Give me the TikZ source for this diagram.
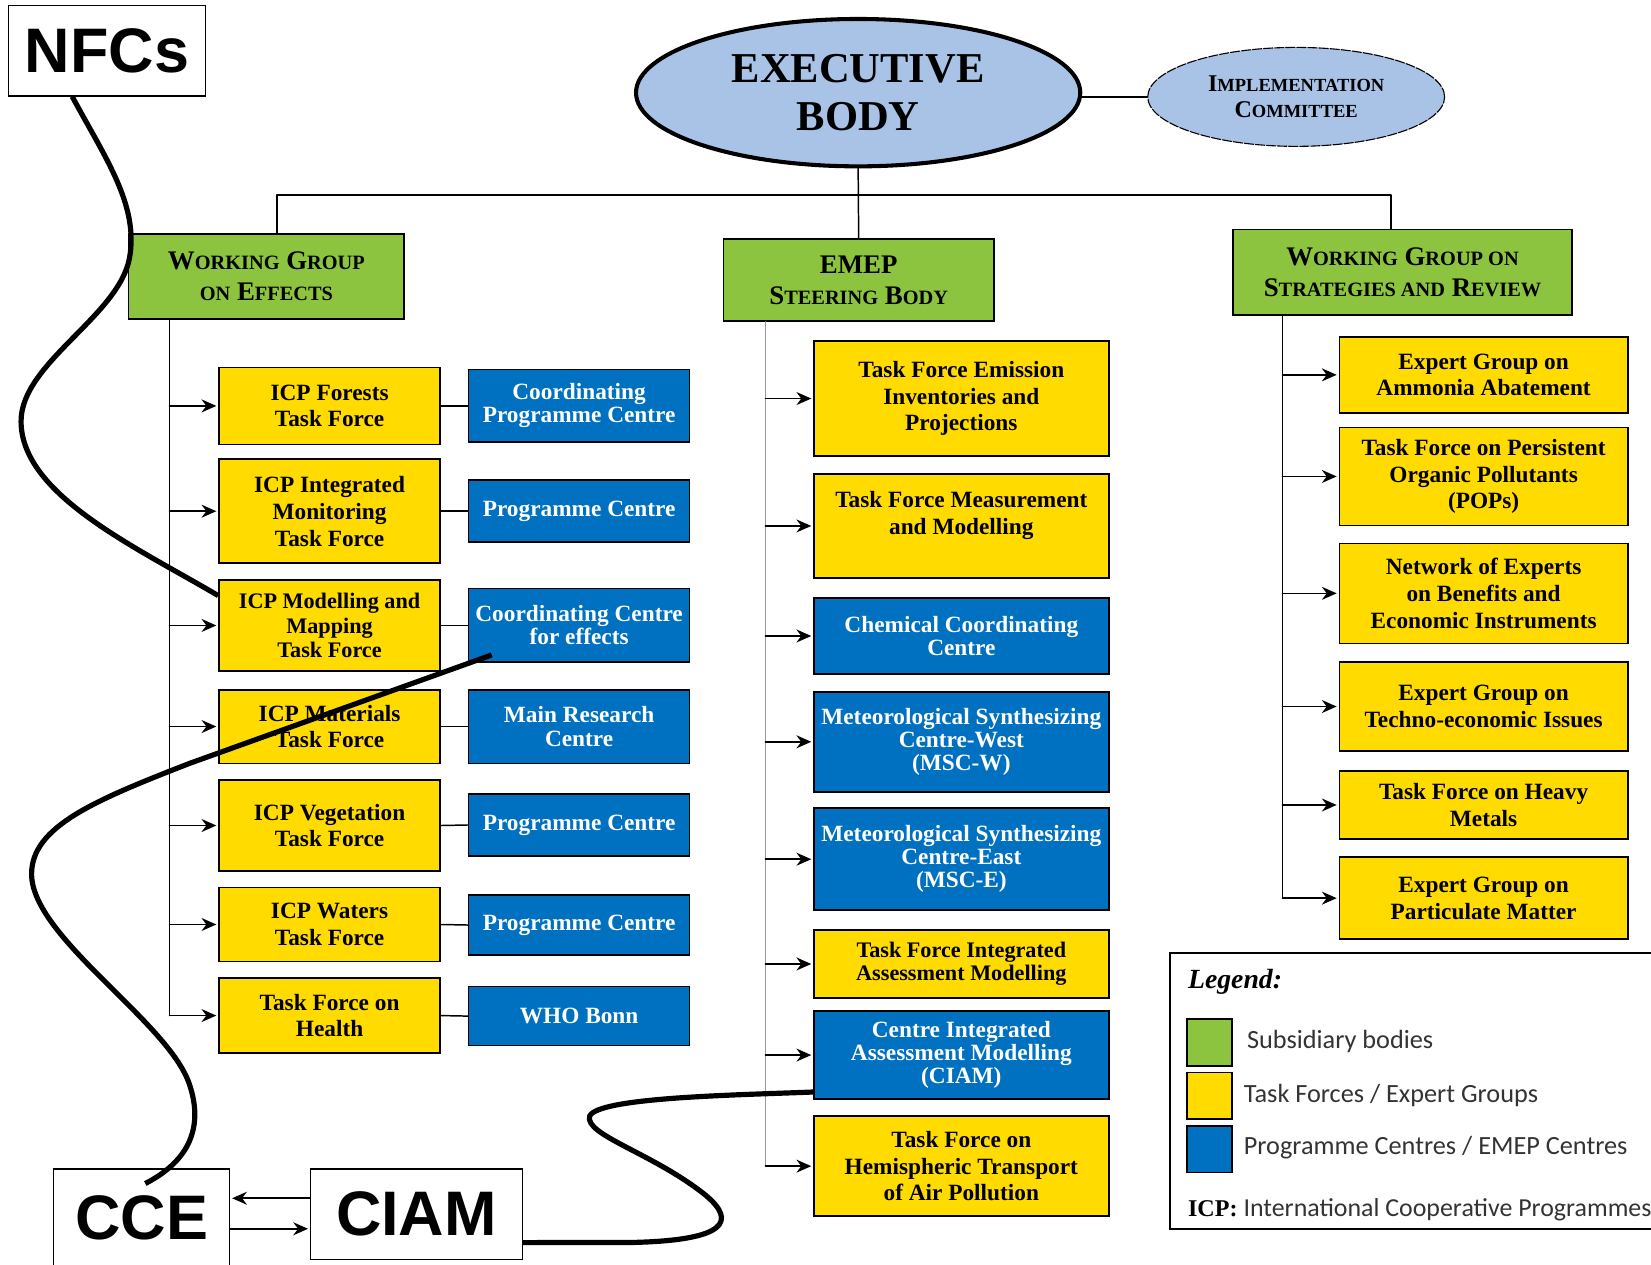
\documentclass[tikz,border=0pt]{standalone}
\usepackage{fontspec}
\setmainfont{Liberation Serif}
\newfontfamily\bigsans{Liberation Sans}
\newfontfamily\legsans{Carlito}
\usetikzlibrary{arrows.meta,shapes.geometric}
\definecolor{tfyellow}{HTML}{FFDB00}
\definecolor{pcblue}{HTML}{0070C0}
\definecolor{sbgreen}{HTML}{8CC43F}
\definecolor{ebblue}{HTML}{A9C3E6}
\newcommand\smc[2][11]{{\fontsize{#1}{#1}\selectfont #2}}
\tikzset{
  every picture/.style={line join=round, line cap=round, >=Stealth},
  tf/.style={draw, line width=0.9pt, line join=miter, fill=tfyellow, align=center, inner sep=1pt, font=\bfseries\fontsize{12.6}{14.5}\selectfont},
  pc/.style={tf, fill=pcblue, text=white, font=\bfseries\fontsize{12.6}{12.5}\selectfont},
  sb/.style={draw, line width=0.9pt, line join=miter, fill=sbgreen, align=center, inner sep=1pt, font=\bfseries\fontsize{14.5}{17}\selectfont},
  lcol/.style={minimum width=4.2cm},
  mcol/.style={minimum width=5.6cm},
  rcol/.style={minimum width=5.48cm},
  tag/.style={draw, line width=0.8pt, line join=miter, fill=white, inner sep=0pt, font=\bigsans\bfseries\fontsize{34}{36}\selectfont},
  feed/.style={-{Stealth[length=8pt,width=7pt]}, line width=0.9pt, shorten >=1pt},
  link/.style={line width=0.8pt},
  curl/.style={line width=2.8pt, line cap=butt},
  swatch/.style={draw, line width=1pt, line join=miter, minimum width=0.86cm, minimum height=0.88cm},
  legtext/.style={anchor=west, inner sep=0pt, text=black!80, font=\legsans\fontsize{14.2}{15}\selectfont},
}
\begin{document}
\begin{tikzpicture}[x=0.02cm, y=-0.02cm]
\useasboundingbox (0,0) rectangle (1568,1201);
% top of the tree
\node[ellipse, draw, line width=2.2pt, fill=ebblue, minimum width=8.44cm, minimum height=2.8cm, inner sep=0pt, align=center, font=\bfseries\fontsize{23}{25.5}\selectfont] (exec) at (815,88) {EXECUTIVE\\BODY};
\node[ellipse, draw, line width=0.6pt, dash pattern=on 5pt off 1pt, fill=ebblue, minimum width=5.64cm, minimum height=1.88cm, inner sep=0pt, align=center, font=\bfseries\fontsize{13}{14.2}\selectfont] (impl) at (1231,92) {I\smc[10]{MPLEMENTATION}\\C\smc[10]{OMMITTEE}};
\node[sb, minimum width=5.24cm, minimum height=1.62cm] (wge) at (253,262.5) {W\smc{ORKING} G\smc{ROUP}\\\smc{ON} E\smc{FFECTS}};
\node[sb, minimum width=5.14cm, minimum height=1.56cm] (emep) at (815.5,266) {EMEP\\S\smc{TEERING} B\smc{ODY}};
\node[sb, minimum width=6.44cm, minimum height=1.62cm] (wgsr) at (1332,258.5) {W\smc{ORKING} G\smc{ROUP ON}\\S\smc{TRATEGIES AND} R\smc{EVIEW}};
\coordinate (bus) at (812,185);
\draw[link] (impl.west) -- (impl.west -| exec.east);
\draw[link] (exec.south) -- (emep.north);
\draw[link] ([xshift=0.2cm]wge.north) |- (bus) -| ([xshift=-0.22cm]wgsr.north);
% working group on effects
\node[tf, lcol, minimum height=1.46cm] (forests) at (313,385.5) {ICP Forests\\Task Force};
\node[tf, lcol, minimum height=1.98cm] (integrated) at (313,485.5) {ICP Integrated\\Monitoring\\Task Force};
\node[tf, lcol, minimum height=1.72cm, font=\bfseries\fontsize{12}{13.3}\selectfont] (mapping) at (313,594) {ICP Modelling and\\Mapping\\Task Force};
\node[tf, lcol, minimum height=1.4cm] (materials) at (313,690) {ICP Materials\\Task Force};
\node[tf, lcol, minimum height=1.72cm] (vegetation) at (313,784) {ICP Vegetation\\Task Force};
\node[tf, lcol, minimum height=1.4cm] (waters) at (313,878) {ICP Waters\\Task Force};
\node[tf, lcol, minimum height=1.42cm] (health) at (313,964.5) {Task Force on\\Health};
\node[pc, lcol, minimum height=1.38cm] (cpc) at (550,385.5) {Coordinating\\Programme Centre};
\node[pc, lcol, minimum height=1.18cm] (pcim) at (550,485.5) {Programme Centre};
\node[pc, lcol, minimum height=1.4cm] (cce effects) at (550,594) {Coordinating Centre\\for effects};
\node[pc, lcol, minimum height=1.4cm] (mrc) at (550,690) {Main Research\\Centre};
\node[pc, lcol, minimum height=1.18cm] (pcveg) at (550,783.5) {Programme Centre};
\node[pc, lcol, minimum height=1.14cm] (pcwat) at (550,878.5) {Programme Centre};
\node[pc, lcol, minimum height=1.12cm] (who) at (550,965) {WHO Bonn};
\coordinate (lt) at (161,0);
\draw[link] (wge.south -| lt) -- (lt |- health.west);
\foreach \n in {forests,integrated,mapping,materials,vegetation,waters,health}
  \draw[feed] (lt |- \n.west) -- (\n.west);
\foreach \a/\b in {forests/cpc,integrated/pcim,mapping/cce effects,materials/mrc,vegetation/pcveg,waters/pcwat,health/who}
  \draw[link] (\a.east) -- (\b.west);
% EMEP
\node[tf, mcol, minimum height=2.18cm] (eip) at (913,378.5) {Task Force Emission\\Inventories and\\Projections};
\node[tf, mcol, minimum height=1.98cm] (tfmm) at (913,499.5) {Task Force Measurement\\and Modelling\\\mbox{}};
\node[pc, mcol, minimum height=1.44cm] (ccc) at (913,604) {Chemical Coordinating\\Centre};
\node[pc, mcol, minimum height=1.9cm] (mscw) at (913,704.5) {Meteorological Synthesizing\\Centre-West\\(MSC-W)};
\node[pc, mcol, minimum height=1.94cm] (msce) at (913,816) {Meteorological Synthesizing\\Centre-East\\(MSC-E)};
\node[tf, mcol, minimum height=1.3cm, font=\bfseries\fontsize{12}{12.5}\selectfont] (tfiam) at (913,915.5) {Task Force Integrated\\Assessment Modelling};
\node[pc, mcol, minimum height=1.68cm] (ciamc) at (913,1002) {Centre Integrated\\Assessment Modelling\\(CIAM)};
\node[tf, mcol, minimum height=1.9cm] (htap) at (913,1107.5) {Task Force on\\Hemispheric Transport\\of Air Pollution};
\coordinate (mt) at (727,0);
\draw[link, black!40] (emep.south -| mt) -- (mt |- htap.west);
\foreach \n in {eip,tfmm,ccc,mscw,msce,tfiam,ciamc,htap}
  \draw[feed] (mt |- \n.west) -- (\n.west);
% strategies and review
\node[tf, rcol, minimum height=1.44cm] (ammonia) at (1409,356) {Expert Group on\\Ammonia Abatement};
\node[tf, rcol, minimum height=1.86cm] (pops) at (1409,452.5) {Task Force on Persistent\\Organic Pollutants\\(POPs)};
\node[tf, rcol, minimum height=1.9cm] (benefits) at (1409,563.5) {Network of Experts\\on Benefits and\\Economic Instruments};
\node[tf, rcol, minimum height=1.68cm] (techno) at (1409,671) {Expert Group on\\Techno-economic Issues};
\node[tf, rcol, minimum height=1.3cm] (metals) at (1409,764.5) {Task Force on Heavy\\Metals};
\node[tf, rcol, minimum height=1.56cm] (pm) at (1409,853) {Expert Group on\\Particulate Matter};
\coordinate (rt) at (1218,0);
\draw[link] (wgsr.south -| rt) -- (rt |- pm.west);
\foreach \n in {ammonia,pops,benefits,techno,metals,pm}
  \draw[feed] (rt |- \n.west) -- (\n.west);
% legend
\node[draw, line width=0.9pt, line join=miter, minimum width=9.4cm, minimum height=5.24cm] (legend) at (1346,1036) {};
\node[anchor=west, inner sep=0pt, font=\bfseries\itshape\fontsize{15}{15}\selectfont] (legtitle) at (1128,932) {Legend:};
\node[swatch, fill=sbgreen] (swg) at (1148.5,990) {};
\node[swatch, fill=tfyellow] (swy) at (1148.5,1040.5) {};
\node[swatch, fill=pcblue] (swb) at (1148.5,1091.5) {};
\node[legtext] (lg) at (1184,989) {Subsidiary bodies};
\node[legtext] (ly) at (1181,1040) {Task Forces / Expert Groups};
\node[legtext] (lb) at (1181,1090) {Programme Centres / EMEP Centres};
\node[anchor=west, inner sep=0pt, font=\bfseries\fontsize{13}{13}\selectfont] (icp) at (1128,1149) {ICP:\ {\legsans\mdseries\fontsize{14}{15}\selectfont\color{black!80}International Cooperative Programmes}};
% the overlay
\node[tag, minimum width=3.74cm, minimum height=1.72cm] (nfcs) at (101.5,48) {NFCs};
\node[tag, minimum width=3.34cm, minimum height=1.88cm] (cce) at (134.5,1157) {CCE};
\node[tag, minimum width=4.02cm, minimum height=1.72cm] (ciam) at (395.5,1153) {CIAM};
\draw[feed] ([yshift=0.3cm]ciam.west) -- ([yshift=0.3cm]ciam.west -| cce.east);
\draw[feed] ([yshift=-0.28cm]ciam.west -| cce.east) -- ([yshift=-0.28cm]ciam.west);
\coordinate (cceIn) at (138,1124);
\coordinate (cfeIn) at (467,622);
\draw[curl] (nfcs.233) .. controls (100,150) and (132,195) .. (123,245) .. controls (113,300) and (20,345) .. (20,400) .. controls (20,470) and (130,520) .. (mapping.165);
\draw[curl] (cceIn) .. controls (175,1105) and (195,1075) .. (180,1030) .. controls (160,970) and (30,890) .. (30,830) .. controls (30,785) and (90,760) .. (180,725) -- (cfeIn);
\draw[curl] (ciam.-15) -- (600,1180) .. controls (690,1178) and (700,1160) .. (670,1135) .. controls (620,1095) and (555,1078) .. (560,1060) .. controls (568,1042) and (700,1040) .. (ciamc.194);
\end{tikzpicture}
\end{document}
